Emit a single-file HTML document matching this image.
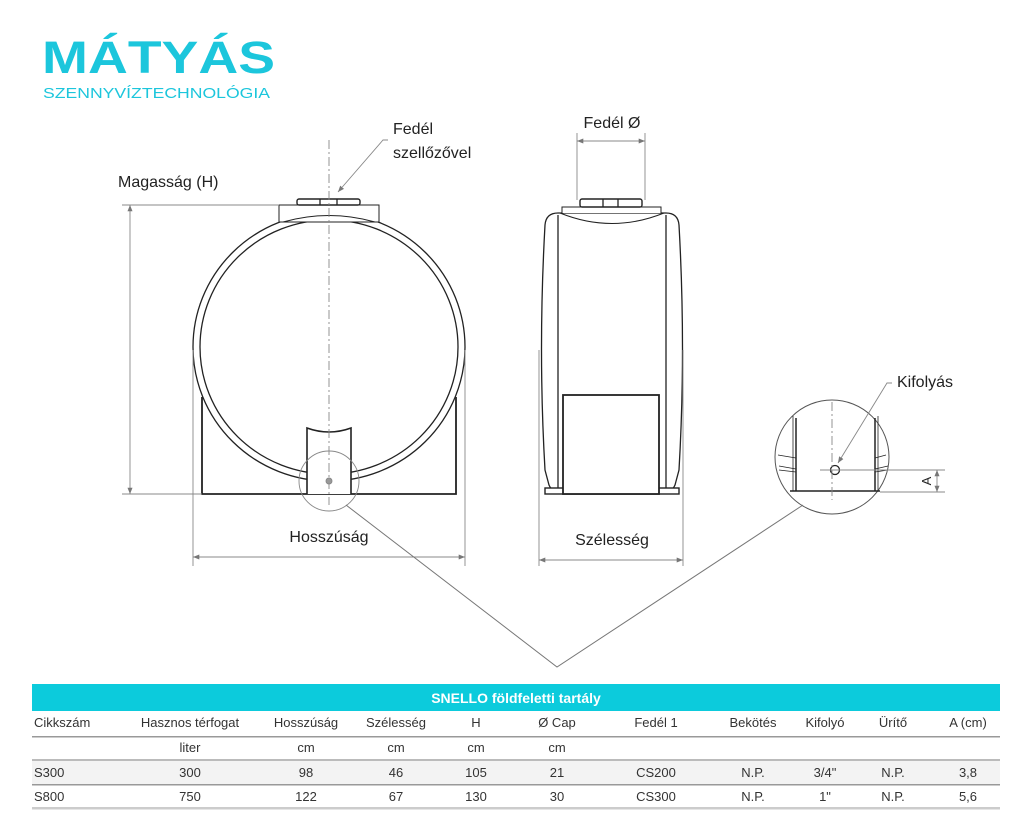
<!DOCTYPE html>
<html><head><meta charset="utf-8"><style>
body{margin:0;background:#fff;width:1024px;height:840px;overflow:hidden;font-family:"Liberation Sans",sans-serif;}
svg{position:absolute;left:0;top:0}
</style></head><body>
<svg width="1024" height="840" viewBox="0 0 1024 840" xmlns="http://www.w3.org/2000/svg" font-family="Liberation Sans, sans-serif">
<defs>
<marker id="a" viewBox="0 0 10 10" refX="10" refY="5" markerWidth="7" markerHeight="7" orient="auto-start-reverse"><path d="M0,1 L10,5 L0,9 z" fill="#777"/></marker>
</defs>
<!-- logo -->
<text x="42" y="73" font-size="45" font-weight="bold" fill="#1cc6dc" textLength="233" lengthAdjust="spacingAndGlyphs">MÁTYÁS</text>
<text x="43" y="98" font-size="14.5" fill="#1cc6dc" textLength="227" lengthAdjust="spacingAndGlyphs">SZENNYVÍZTECHNOLÓGIA</text>

<g fill="none" stroke="#222" stroke-width="1.3">
<!-- front view -->
<path d="M202,397 L202,494 L456,494 L456,397" stroke-width="1.8"/>
<ellipse cx="329" cy="347" rx="136" ry="134" fill="#fff"/>
<ellipse cx="329" cy="347" rx="129" ry="127"/>
<rect x="279" y="205" width="100" height="17" fill="#fff" stroke-width="1"/>
<path d="M283,222 Q329,209 375,222" stroke-width="1"/>
<rect x="297" y="199" width="63" height="6" rx="2" fill="#fff" stroke-width="1.4"/>
<line x1="320" y1="199" x2="320" y2="205"/><line x1="337" y1="199" x2="337" y2="205"/>
<path d="M307,494 L307,428 Q329,436 351,428 L351,494" fill="#fff" stroke-width="1.6"/>
<!-- side view -->
<path d="M558,213 Q546,213 545,225 Q538,350 545,470 L549,485 Q552,492 560,492 L664,492 Q672,492 675,485 L679,470 Q686,350 679,225 Q678,213 666,213 Z" fill="#fff"/>
<line x1="558" y1="215" x2="558" y2="490"/><line x1="666" y1="215" x2="666" y2="490"/>
<rect x="545" y="488" width="134" height="6" fill="#fff" stroke-width="1.4"/>
<rect x="563" y="395" width="96" height="99" fill="#fff" stroke-width="1.8"/>
<path d="M562,213 L562,207 L661,207 L661,213" fill="#fff" stroke-width="1"/>
<path d="M560,213 Q612,234 664,213" stroke-width="1"/>
<rect x="580" y="199" width="62" height="8" rx="2" fill="#fff" stroke-width="1.4"/>
<line x1="603" y1="199" x2="603" y2="207"/><line x1="618" y1="199" x2="618" y2="207"/>
<!-- detail -->
<circle cx="832" cy="457" r="57" fill="#fff" stroke="#555" stroke-width="1"/>
<line x1="796" y1="418" x2="796" y2="491" stroke-width="1.5"/>
<line x1="875" y1="418" x2="875" y2="491" stroke-width="1.5"/>
<line x1="793" y1="416" x2="793" y2="491" stroke-width="0.8"/>
<line x1="878" y1="416" x2="878" y2="491" stroke-width="0.8"/>
<line x1="790" y1="491" x2="880" y2="491" stroke-width="1.6"/>
<path d="M778,455 L796,458 M779,466 L796,469 M779,470 L796,472 M875,458 L886,455 M875,469 L888,466 M875,472 L888,470" stroke-width="0.8"/>
<circle cx="835" cy="470" r="4.5" fill="#fff"/>
</g>
<g fill="none" stroke="#888" stroke-width="0.9">
<line x1="329" y1="140" x2="329" y2="505" stroke-dasharray="9,3,2,3"/>
<line x1="832" y1="402" x2="832" y2="500" stroke-dasharray="9,3,2,3"/>
<line x1="820" y1="470" x2="945" y2="470"/>
<line x1="880" y1="492" x2="945" y2="492"/>
<line x1="937" y1="470" x2="937" y2="492" marker-start="url(#a)" marker-end="url(#a)"/>
<circle cx="329" cy="481" r="30"/>
<circle cx="329" cy="481" r="3" fill="#999"/>
<line x1="122" y1="205" x2="279" y2="205"/>
<line x1="122" y1="494" x2="202" y2="494"/>
<line x1="130" y1="205" x2="130" y2="494" marker-start="url(#a)" marker-end="url(#a)"/>
<line x1="193" y1="350" x2="193" y2="566"/><line x1="465" y1="350" x2="465" y2="566"/>
<line x1="193" y1="557" x2="465" y2="557" marker-start="url(#a)" marker-end="url(#a)"/>
<line x1="539" y1="350" x2="539" y2="566"/><line x1="683" y1="350" x2="683" y2="566"/>
<line x1="539" y1="560" x2="683" y2="560" marker-start="url(#a)" marker-end="url(#a)"/>
<line x1="577" y1="133" x2="577" y2="200"/><line x1="645" y1="133" x2="645" y2="200"/>
<line x1="577" y1="141" x2="645" y2="141" marker-start="url(#a)" marker-end="url(#a)"/>
<path d="M388,140 L383,140 L338,192" marker-end="url(#a)"/>
<path d="M892,383 L887,383 L838,463" marker-end="url(#a)"/>
<path d="M346,505 L557,667 L803,505" stroke="#777" stroke-width="1"/>
</g>
<g font-size="16" fill="#222">
<text x="118" y="187">Magasság (H)</text>
<text x="393" y="134">Fedél</text>
<text x="393" y="158">szellőzővel</text>
<text x="612" y="128" text-anchor="middle">Fedél Ø</text>
<text x="897" y="387">Kifolyás</text>
<text x="329" y="542" text-anchor="middle">Hosszúság</text>
<text x="612" y="545" text-anchor="middle">Szélesség</text>
<text transform="translate(931,481) rotate(-90)" text-anchor="middle" font-size="13">A</text>
</g>
<!-- table -->
<rect x="32" y="684" width="968" height="27" fill="#0ccbdc"/>
<text x="516" y="703" font-size="14" font-weight="bold" fill="#fff" text-anchor="middle">SNELLO földfeletti tartály</text>
<rect x="32" y="736" width="968" height="1.5" fill="#999"/>
<rect x="32" y="759" width="968" height="2.5" fill="#bbb"/>
<rect x="32" y="761" width="968" height="23" fill="#f3f3f3"/>
<rect x="32" y="784" width="968" height="1.5" fill="#999"/>
<rect x="32" y="807" width="968" height="2.5" fill="#ccc"/>
<g font-size="13" fill="#333" text-anchor="middle">
<text x="34" y="727" text-anchor="start">Cikkszám</text>
<text x="190" y="727">Hasznos térfogat</text><text x="306" y="727">Hosszúság</text><text x="396" y="727">Szélesség</text><text x="476" y="727">H</text><text x="557" y="727">Ø Cap</text><text x="656" y="727">Fedél 1</text><text x="753" y="727">Bekötés</text><text x="825" y="727">Kifolyó</text><text x="893" y="727">Ürítő</text><text x="968" y="727">A (cm)</text>
<text x="190" y="752">liter</text><text x="306" y="752">cm</text><text x="396" y="752">cm</text><text x="476" y="752">cm</text><text x="557" y="752">cm</text>
<text x="34" y="777" text-anchor="start">S300</text>
<text x="190" y="777">300</text><text x="306" y="777">98</text><text x="396" y="777">46</text><text x="476" y="777">105</text><text x="557" y="777">21</text><text x="656" y="777">CS200</text><text x="753" y="777">N.P.</text><text x="825" y="777">3/4"</text><text x="893" y="777">N.P.</text><text x="968" y="777">3,8</text>
<text x="34" y="801" text-anchor="start">S800</text>
<text x="190" y="801">750</text><text x="306" y="801">122</text><text x="396" y="801">67</text><text x="476" y="801">130</text><text x="557" y="801">30</text><text x="656" y="801">CS300</text><text x="753" y="801">N.P.</text><text x="825" y="801">1"</text><text x="893" y="801">N.P.</text><text x="968" y="801">5,6</text>
</g>
</svg>
</body></html>
